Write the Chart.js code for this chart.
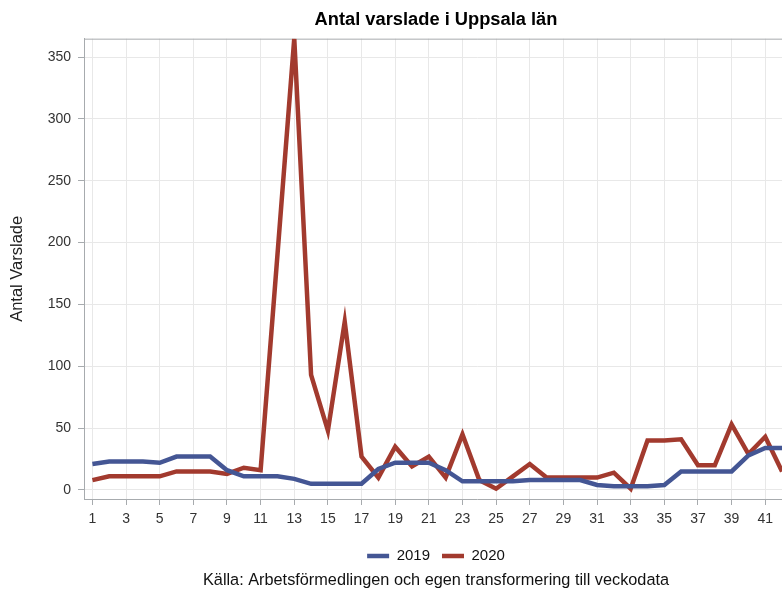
<!DOCTYPE html>
<html>
<head>
<meta charset="utf-8">
<title>Antal varslade i Uppsala län</title>
<script src="https://cdn.jsdelivr.net/npm/chart.js@4.4.1/dist/chart.umd.min.js"></script>
<style>
  html, body { margin: 0; padding: 0; background: #fff; overflow: hidden; }
  .wrap { width: 782px; height: 590px; overflow: hidden; }
  canvas { display: block; }
</style>
</head>
<body>
<div class="wrap"><canvas id="chart" width="880" height="590"></canvas></div>
<script>
// weekly data (the original figure is cut after week 42)
const weeks = [1, 2, 3, 4, 5, 6, 7, 8, 9, 10, 11, 12, 13, 14, 15, 16, 17, 18, 19, 20, 21,
  22, 23, 24, 25, 26, 27, 28, 29, 30, 31, 32, 33, 34, 35, 36, 37, 38, 39, 40, 41, 42];
const varslade2019 = [21, 23, 23, 23, 22, 27, 27, 27, 16, 11, 11, 11, 9, 5, 5, 5, 5, 17, 22, 22, 22,
  16, 7, 7, 7, 7, 8, 8, 8, 8, 4, 3, 3, 3, 4, 15, 15, 15, 15, 28, 34, 34];
const varslade2020 = [8, 11, 11, 11, 11, 15, 15, 15, 13, 18, 16, 190, 365, 93, 48, 136, 27, 10, 35, 19, 27,
  10, 45, 8, 1, 11, 21, 10, 10, 10, 10, 14, 1, 40, 40, 41, 20, 20, 53, 29, 43, 15];
const weekTicks = [1, 3, 5, 7, 9, 11, 13, 15, 17, 19, 21, 23, 25, 27, 29, 31, 33, 35, 37, 39, 41, 43, 45, 47];
const countTicks = [0, 50, 100, 150, 200, 250, 300, 350];

const blue = '#445694';
const red = '#A23A2E';
const axisGray = '#a7abae';
const gridGray = '#e8e8e8';

Chart.defaults.font.family = '"Liberation Sans", Arial, sans-serif';
Chart.defaults.color = '#333';

const toPoints = (vals) => vals.map((v, i) => ({ x: weeks[i], y: v }));

// top edge of the plot frame (the right edge falls outside the picture)
const frame = {
  id: 'frame',
  beforeDatasetsDraw(chart) {
    const { ctx, chartArea: a } = chart;
    ctx.save();
    ctx.strokeStyle = axisGray;
    ctx.lineWidth = 1;
    ctx.beginPath();
    ctx.moveTo(a.left, a.top + 0.5);
    ctx.lineTo(a.right, a.top + 0.5);
    ctx.stroke();
    ctx.restore();
  }
};

new Chart(document.getElementById('chart'), {
  type: 'line',
  data: {
    datasets: [
      {
        label: '2019',
        data: toPoints(varslade2019),
        borderColor: blue,
        backgroundColor: blue,
        borderWidth: 4.5,
        pointRadius: 0,
        tension: 0
      },
      {
        label: '2020',
        data: toPoints(varslade2020),
        borderColor: red,
        backgroundColor: red,
        borderWidth: 4.5,
        pointRadius: 0,
        tension: 0
      }
    ]
  },
  options: {
    responsive: false,
    animation: false,
    devicePixelRatio: 1,
    layout: { padding: { left: 0, right: 8, top: 0, bottom: 0 } },
    plugins: {
      title: {
        display: true,
        text: 'Antal varslade i Uppsala län',
        color: '#000',
        font: { size: 18.3, weight: 'bold' },
        padding: { top: 9, bottom: 7.7 }
      },
      subtitle: {
        display: true,
        position: 'bottom',
        text: 'Källa: Arbetsförmedlingen och egen transformering till veckodata',
        color: '#111',
        font: { size: 16.3, lineHeight: 1 },
        padding: { top: -1.5, bottom: 1.7 }
      },
      legend: {
        position: 'bottom',
        labels: {
          usePointStyle: true,
          pointStyle: 'line',
          pointStyleWidth: 22,
          boxWidth: 22,
          padding: 12,
          color: '#111',
          font: { size: 15 }
        }
      },
      tooltip: { enabled: false }
    },
    scales: {
      x: {
        type: 'linear',
        min: 0.5,
        max: 47.24,
        afterBuildTicks: (scale) => { scale.ticks = weekTicks.map(v => ({ value: v })); },
        afterFit: (scale) => { scale.height = 37.5; },
        grid: { color: gridGray, tickColor: axisGray, tickLength: 6 },
        border: { color: axisGray },
        ticks: { autoSkip: false, maxRotation: 0, padding: 6, font: { size: 14 } }
      },
      y: {
        min: -7.3,
        max: 364.9,
        afterBuildTicks: (scale) => { scale.ticks = countTicks.map(v => ({ value: v })); },
        afterFit: (scale) => { scale.width = 84; },
        grid: { color: gridGray, tickColor: axisGray, tickLength: 6 },
        border: { color: axisGray },
        ticks: { padding: 7, font: { size: 14 } },
        title: {
          display: true,
          text: 'Antal Varslade',
          color: '#222',
          font: { size: 16.5 },
          padding: { top: 8, bottom: 0 }
        }
      }
    }
  },
  plugins: [frame]
});
</script>
</body>
</html>
